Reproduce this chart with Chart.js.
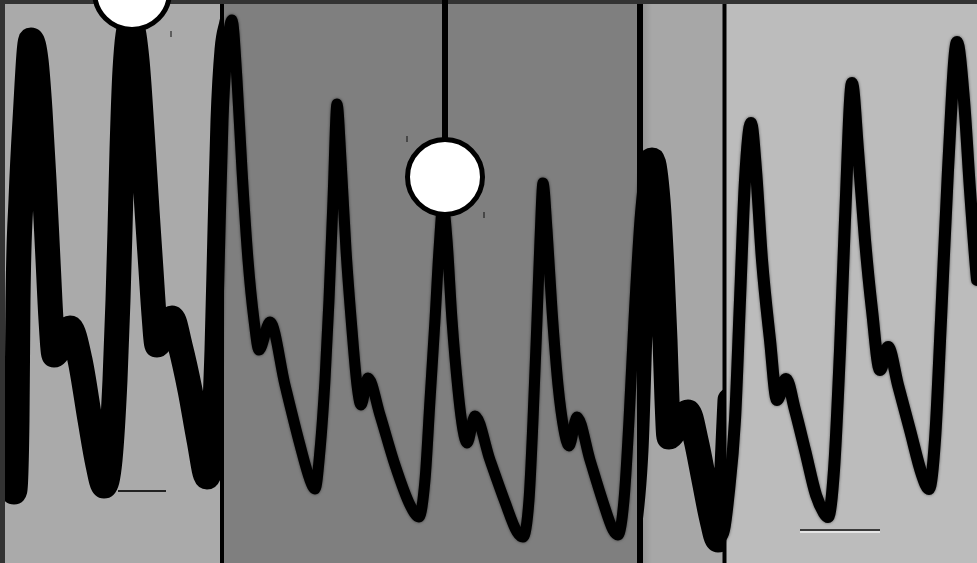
<!DOCTYPE html>
<html>
<head>
<meta charset="utf-8">
<script src="https://cdn.jsdelivr.net/npm/chart.js@4.4.1/dist/chart.umd.min.js"></script>
<style>
  html, body { margin: 0; padding: 0; background: #333; overflow: hidden; }
  canvas { display: block; }
</style>
</head>
<body>
<canvas id="trace" width="977" height="563"></canvas>
<script>
// panel boundaries along the sweep and their shading
const panelEdges = [5, 222, 638, 724, 977];
const panelShades = ['#aaaaaa', '#7f7f7f', '#a7a7a7', '#bcbcbc'];

// pressure trace, first (zoomed, heavy) panel
const wave1X = [-6, 14, 17, 18, 21, 25, 31, 36, 40, 44, 48, 51, 54, 60, 70, 80, 90, 98, 104,
  110, 115, 118, 120, 122, 125, 131, 137, 142, 147, 151, 154, 157, 163, 172, 180, 190, 199, 207,
  213, 217, 220, 223, 227, 232];
const wave1Y = [400, 492, 420, 300, 200, 120, 40, 60, 110, 180, 260, 320, 355, 348, 328, 360, 420, 465, 486,
  460, 380, 300, 230, 150, 70, 25, 60, 130, 210, 270, 315, 345, 336, 318, 345, 390, 440, 477,
  440, 350, 230, 120, 50, 22];

// second panel, normal sweep
const wave2X = [207, 213, 217, 220, 223, 227, 232, 237, 242, 248, 254, 259, 270, 285, 300, 310, 315,
  320, 325, 329, 333, 337, 341, 346, 352, 357, 361, 368, 380, 395, 410, 419,
  425, 430, 435, 439, 443, 447, 452, 458, 463, 467, 475, 490, 505, 517, 523,
  529, 533, 537, 540, 543, 547, 552, 558, 564, 569, 577, 590, 603, 613, 618,
  624, 629, 634, 640, 646];
const wave2Y = [477, 440, 350, 230, 120, 50, 20, 80, 170, 260, 320, 350, 322, 385, 445, 480, 489,
  450, 380, 300, 200, 104, 160, 250, 330, 385, 405, 378, 415, 465, 505, 517,
  480, 400, 320, 250, 205, 240, 320, 390, 430, 443, 416, 460, 502, 532, 537,
  500, 420, 320, 240, 183, 230, 310, 385, 430, 446, 417, 460, 502, 530, 535,
  500, 420, 320, 220, 160];

// third panel, heavy again
const wave3X = [625, 636, 641, 645, 652, 658, 662, 665, 667, 669, 678, 688, 696, 704, 712, 718, 724, 730];
const wave3Y = [560, 450, 300, 200, 160, 200, 270, 340, 400, 437, 425, 412, 440, 480, 520, 540, 520, 400];

// fourth panel
const wave4X = [718, 724, 728, 735, 740, 745, 751, 756, 762, 770, 777, 786, 795, 805, 816, 824, 828,
  834, 840, 845, 852, 858, 865, 872, 880, 888, 898, 910, 922, 929,
  935, 941, 948, 957, 964, 970, 977, 985];
const wave4Y = [540, 530, 500, 420, 300, 180, 123, 170, 260, 340, 400, 379, 410, 450, 495, 513, 517,
  470, 350, 220, 83, 150, 240, 310, 370, 347, 385, 430, 475, 489,
  440, 320, 170, 42, 100, 190, 280, 350];

// cursor handles and small tick marks
const handleX = [445, 132];
const handleY = [177, -8];
const stemX = [445, 445];
const stemY = [0, 140];
const tickX = [171, 407, 484];
const tickY = [34, 139, 215];

// baseline markers
const base1X = [118, 166];
const base1Y = [491, 491];
const base4X = [800, 880];
const base4Y = [530, 530];

const toPoints = (xs, ys) => xs.map((x, i) => ({ x, y: ys[i] }));

function wave(xs, ys, panel, width, soft) {
  return {
    data: toPoints(xs, ys),
    panel,
    soft,
    borderColor: '#000',
    borderWidth: width,
    borderCapStyle: 'round',
    borderJoinStyle: 'round',
    cubicInterpolationMode: 'monotone',
    pointRadius: 0,
    clip: false,
  };
}

function rule(xs, ys, color, width) {
  return {
    data: toPoints(xs, ys),
    borderColor: color,
    borderWidth: width,
    pointRadius: 0,
    tension: 0,
    clip: false,
  };
}

// background shading of each panel, drawn beneath everything
const backdrop = {
  id: 'backdrop',
  beforeDatasetsDraw(chart) {
    const { ctx } = chart;
    const x = chart.scales.x;
    ctx.save();
    ctx.fillStyle = '#333';
    ctx.fillRect(0, 0, chart.width, chart.height);
    for (let i = 0; i < panelShades.length; i++) {
      const left = x.getPixelForValue(panelEdges[i]);
      const right = x.getPixelForValue(panelEdges[i + 1]);
      ctx.fillStyle = panelShades[i];
      ctx.fillRect(left, 4, right - left, chart.height - 4);
    }
    // slight shade on the left edge of the third panel
    const l3 = x.getPixelForValue(panelEdges[2]);
    const g = ctx.createLinearGradient(l3, 0, l3 + 14, 0);
    g.addColorStop(0, 'rgba(0,0,0,0.18)');
    g.addColorStop(1, 'rgba(0,0,0,0)');
    ctx.fillStyle = g;
    ctx.fillRect(l3, 4, 14, chart.height - 4);
    ctx.restore();
  },
};

// keep each trace inside its own panel
const panelClip = {
  id: 'panelClip',
  beforeDatasetDraw(chart, args) {
    const ds = chart.data.datasets[args.index];
    if (ds.panel == null) return;
    const { ctx } = chart;
    const x = chart.scales.x;
    const left = x.getPixelForValue(panelEdges[ds.panel]);
    const right = x.getPixelForValue(panelEdges[ds.panel + 1]);
    ctx.save();
    ctx.beginPath();
    ctx.rect(left, 0, right - left, chart.height);
    ctx.clip();
    if (ds.soft) {
      ctx.shadowColor = 'rgba(0,0,0,0.55)';
      ctx.shadowBlur = 3;
    }
  },
  afterDatasetDraw(chart, args) {
    if (chart.data.datasets[args.index].panel != null) chart.ctx.restore();
  },
};

const datasets = [
  {
    data: toPoints(handleX, handleY),
    showLine: false,
    pointRadius: 37.5,
    pointBackgroundColor: '#fff',
    pointBorderColor: '#000',
    pointBorderWidth: 5,
    clip: false,
  },
  {
    data: toPoints(tickX, tickY),
    showLine: false,
    pointStyle: 'line',
    rotation: 90,
    pointRadius: 3,
    pointBorderWidth: 1,
    pointBorderColor: '#111',
    clip: false,
  },
  rule(stemX, stemY, '#000', 6),
  rule([222, 222], [4, 563], '#000', 4),
  rule([640, 640], [4, 563], '#000', 6),
  rule([724.5, 724.5], [4, 563], '#000', 4),
  wave(wave1X, wave1Y, 0, 25, false),
  wave(wave2X, wave2Y, 1, 11, true),
  wave(wave3X, wave3Y, 2, 25, false),
  wave(wave4X, wave4Y, 3, 12, true),
  rule(base1X, base1Y, '#222', 2),
  rule(base4X, base4Y, '#3a3a3a', 2),
  rule(base4X, base4Y.map(v => v + 2), '#f2f2f2', 1.5),
];

new Chart(document.getElementById('trace'), {
  type: 'line',
  data: { datasets },
  options: {
    responsive: false,
    animation: false,
    devicePixelRatio: 1,
    layout: { padding: 0, autoPadding: false },
    events: [],
    plugins: { legend: { display: false }, tooltip: { enabled: false } },
    scales: {
      x: { type: 'linear', min: 0, max: 977, display: false },
      y: { type: 'linear', min: 0, max: 563, reverse: true, display: false },
    },
  },
  plugins: [backdrop, panelClip],
});
</script>
</body>
</html>
